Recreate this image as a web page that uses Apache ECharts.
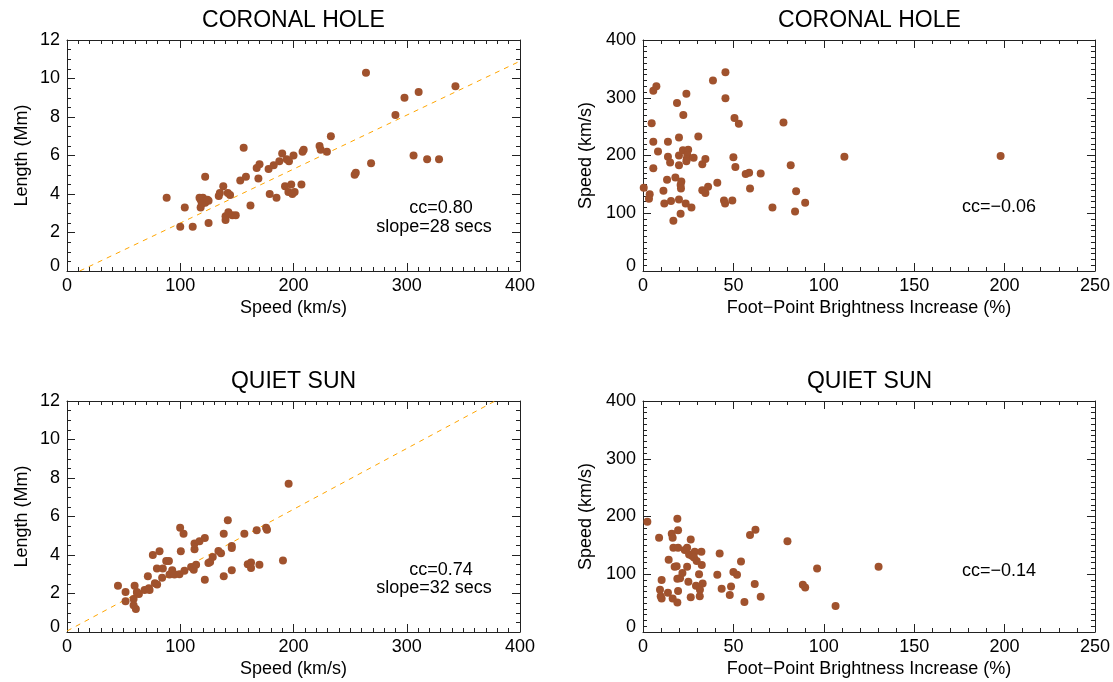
<!DOCTYPE html>
<html>
<head>
<meta charset="utf-8">
<script src="https://cdn.jsdelivr.net/npm/echarts@6/dist/echarts.min.js"></script>
<style>html,body{margin:0;padding:0;background:#fff;}#c{width:1113px;height:682px;}</style>
</head>
<body>
<div id="c"></div>
<script>
// ---- DATA ----
// Coronal hole: [speed km/s, length Mm]
const chSpeedLength = [[88,3.8],[104,3.3],[100,2.3],[111,2.3],[122,4.9],
 [117,3.8],[118,3.7],[120,3.8],[122,3.55],[118,3.3],[125,3.65],[121,3.6],[124,3.7],[119,3.5],
 [125,2.5],[134,3.9],[135,4.05],[138,4.4],[142,4.05],[144,3.95],
 [140,2.65],[140,2.85],[142.5,3.05],[146,2.9],[149,2.9],
 [153,4.7],[156,6.4],[158,4.9],[162,3.4],[167.5,5.35],[170,5.55],[169,4.8],[178,5.3],[182.5,5.5],[187.5,5.7],
 [179,4.0],[185,3.8],[190,6.1],[194,5.8],[196,5.7],[192.5,4.4],[198,4.5],[195.5,4.1],[199,4.0],[201,4.1],
 [200,6.0],[207,4.5],[208,6.2],[209,6.3],[223,6.5],[224,6.3],[229.5,6.2],[233,7.0],[254,5.0],[255,5.1],
 [264,10.3],[268.5,5.6],[290,8.1],[298,9.0],[306,6.0],[310.5,9.3],[318,5.8],[328.5,5.8],[343,9.6]];
// Coronal hole: [foot-point brightness increase %, speed km/s]
const chBrightSpeed = [[0.4,144],[3.7,133],[3.3,125],[4.8,256],[5.7,312],[7.4,320],[5.7,224],[5.7,178],[8.3,207],
 [11.3,139],[11.8,117],[13.3,158],[13.8,224],[13.8,198],[15,188],[15.5,121],[16.8,87],[17.9,162],[18.8,291],
 [19.9,231],[19.9,200],[19.9,183],[19.9,124],[20.8,99],[21.2,155],[20.8,149],[21,143],[22.3,270],[22.1,209],
 [25,210],[24.5,201],[24.2,194],[24,190],[23.6,117],[24,307],[26.8,110],[28,196],[30.6,233],[32.8,185],
 [34.5,194],[32.8,140],[34.5,135],[36,146],[38.7,330],[41.1,153],[44.8,122],[45.4,117],[45.6,344],[45.6,299],
 [49.4,122],[50,197],[50.6,265],[51.1,180],[53,255],[56.8,168],[58.7,170],[59.2,143],[65.1,169],[71.6,110],
 [77.7,257],[81.7,183],[84.1,103],[84.7,138],[89.7,118],[111.4,198],[197.8,199]];
// Quiet sun: [speed km/s, length Mm]
const qsSpeedLength = [[45,2.4],[51.7,2.08],[51.7,1.6],[59.7,2.4],[58.8,1.72],[58.8,1.39],[60.8,1.19],[62,2.0],
 [63.5,1.98],[61.7,2.08],[68.5,2.18],[72.3,2.27],[72.9,2.18],[71.4,2.9],[75.8,4.0],[77.6,2.53],[79.6,2.47],
 [79.4,3.3],[81.7,4.19],[84,2.82],[84.6,3.3],[87.6,3.69],[90,3.69],[90.5,2.99],[92.9,3.21],[94.9,2.99],
 [99.3,3.0],[99.9,5.41],[100.5,4.19],[102.9,5.1],[103.7,3.18],[109.6,3.38],[111.9,3.23],[114,3.49],
 [112.6,4.3],[112.6,4.6],[117,4.72],[121.7,4.88],[121.7,2.71],[124.9,3.59],[126.4,3.63],[128.7,3.9],
 [133.7,4.21],[136,4.09],[138.4,5.1],[138.4,2.89],[142,5.81],[145.5,4.47],[145.5,4.36],[145.5,3.21],
 [156.6,5.1],[159.6,3.52],[162.5,3.61],[162.5,3.33],[167.5,5.29],[169.9,3.49],[175.8,5.41],[176.6,5.31],
 [190.7,3.71],[195.7,7.7]];
// Quiet sun: [foot-point brightness increase %, speed km/s]
const qsBrightSpeed = [[2.4,191],[8.9,163],[10.3,90],[9.4,73],[9.8,62],[10.3,58],[13.8,68],[14.2,125],[15.9,170],
 [16.4,163],[16.4,58],[16.8,146],[17.5,113],[18.6,114],[19,196],[19.4,176],[19.4,146],[19,92],[20.5,93],
 [19.4,71],[19,51],[21.8,102],[23.1,142],[24.4,146],[24.4,113],[25.1,87],[26.4,160],[25.5,134],[27,132],
 [28.6,139],[28.2,129],[29.7,123],[26.4,60],[29.3,80],[31,100],[31.5,73],[31.4,62],[32.3,139],[32.5,116],
 [33,84],[41.1,99],[42.4,136],[43.5,75],[48,64],[48.7,79],[50,104],[52,99],[54.2,122],[56.1,52],[59.2,168],
 [61.8,83],[62.2,177],[65.1,61],[79.9,157],[88.4,82],[89.7,77],[96.3,110],[106.5,45],[130.3,113]];
// Fit lines (endpoints)
const chFit = [[11.2,0],[400,10.9]];
const qsFit = [[0,0.05],[378,12]];
// Titles and annotations
const panelTitles = ['CORONAL HOLE','CORONAL HOLE','QUIET SUN','QUIET SUN'];
const annotations = [['cc=0.80','slope=28 secs'],['cc=\u22120.06'],['cc=0.74','slope=32 secs'],['cc=\u22120.14']];
const speedTicks = [0,100,200,300,400];
const lengthTicks = [0,2,4,6,8,10,12];

// ---- LAYOUT ----
const FONT = 'Liberation Sans';
const grids = [
  {left:67, top:40, width:453, height:231},
  {left:643, top:40, width:453, height:231},
  {left:67, top:401, width:453, height:231},
  {left:643, top:401, width:453, height:231}
];
const axColor = '#222';
function zeroFmt(v){ return v === 0 ? '{z|0}' : String(v); }
function mkX(gi, min, max, interval, minorSplit, name, main){
  return {
    type:'value', gridIndex:gi, min:min, max:max, interval:interval,
    position: main ? 'bottom' : 'top',
    name: main ? name : '', nameLocation:'middle', nameGap:28,
    nameTextStyle:{fontFamily:FONT, fontSize:18, color:'#000'},
    axisLine:{show:true, onZero:false, lineStyle:{color:axColor, width:1}},
    axisTick:{show:true, inside:true, length:8, lineStyle:{color:axColor}},
    minorTick:{show:true, splitNumber:minorSplit, length:4, lineStyle:{color:axColor}},
    axisLabel:{show:main, margin:6, fontFamily:FONT, fontSize:18, color:'#000'},
    splitLine:{show:false}
  };
}
function mkY(gi, min, max, interval, minorSplit, name, gap, main){
  return {
    type:'value', gridIndex:gi, min:min, max:max, interval:interval,
    position: main ? 'left' : 'right',
    name: main ? name : '', nameLocation:'middle', nameGap:gap, nameRotate:90,
    nameTextStyle:{fontFamily:FONT, fontSize:18, color:'#000'},
    axisLine:{show:true, onZero:false, lineStyle:{color:axColor, width:1}},
    axisTick:{show:true, inside:true, length:8, lineStyle:{color:axColor}},
    minorTick:{show:true, splitNumber:minorSplit, length:4, lineStyle:{color:axColor}},
    axisLabel:{show:main, margin:7, fontFamily:FONT, fontSize:18, color:'#000',
      formatter:zeroFmt, rich:{z:{fontFamily:FONT, fontSize:18, color:'#000', padding:[0,0,10,0]}}},
    splitLine:{show:false}
  };
}
const xAxes = [], yAxes = [];
[0,2].forEach(gi=>{
  xAxes.push(mkX(gi, speedTicks[0], speedTicks[speedTicks.length-1], 100, 10, 'Speed (km/s)', true));
  xAxes.push(mkX(gi, speedTicks[0], speedTicks[speedTicks.length-1], 100, 10, '', false));
  yAxes.push(mkY(gi, lengthTicks[0], lengthTicks[lengthTicks.length-1], 2, 4, 'Length (Mm)', 36, true));
  yAxes.push(mkY(gi, lengthTicks[0], lengthTicks[lengthTicks.length-1], 2, 4, '', 36, false));
});
[1,3].forEach(gi=>{
  xAxes.push(mkX(gi, 0, 250, 50, 5, 'Foot\u2212Point Brightness Increase (%)', true));
  xAxes.push(mkX(gi, 0, 250, 50, 5, '', false));
  yAxes.push(mkY(gi, 0, 400, 100, 10, 'Speed (km/s)', 48, true));
  yAxes.push(mkY(gi, 0, 400, 100, 10, '', 48, false));
});
// axis index mapping: grid0 -> 0, grid2 -> 2, grid1 -> 4, grid3 -> 6
const axIdx = {0:0, 2:2, 1:4, 3:6};
const dotColor = '#a0522d';
function scatter(gi, data){
  return {type:'scatter', xAxisIndex:axIdx[gi], yAxisIndex:axIdx[gi], data:data,
    symbolSize:8, itemStyle:{color:dotColor, opacity:1}, silent:true, z:3};
}
function fit(gi, data){
  return {type:'line', xAxisIndex:axIdx[gi], yAxisIndex:axIdx[gi], data:data, symbol:'none',
    lineStyle:{color:'#ffa500', width:1, type:[5,5]}, silent:true, z:2, clip:true};
}
const series = [fit(0, chFit), scatter(0, chSpeedLength), scatter(1, chBrightSpeed),
  fit(2, qsFit), scatter(2, qsSpeedLength), scatter(3, qsBrightSpeed)];

const titles = panelTitles.map((t,i)=>({
  text:t, left: grids[i].left + grids[i].width/2, top: grids[i].top - 31, textAlign:'center', padding:0,
  textStyle:{fontFamily:FONT, fontSize:23, fontWeight:'normal', color:'#000'}
}));

const annPos = [[[441,208],[434,227]],[[999,207]],[[441,570],[434,588]],[[999,571]]];
const graphics = [];
annotations.forEach((lines,i)=>{
  lines.forEach((txt,j)=>{
    graphics.push({type:'text', x:annPos[i][j][0], y:annPos[i][j][1],
      style:{text:txt, fontFamily:FONT, fontSize:18, fill:'#000', textAlign:'center', textVerticalAlign:'middle'}});
  });
});

const chart = echarts.init(document.getElementById('c'), null, {renderer:'canvas'});
chart.setOption({
  animation:false,
  backgroundColor:'#fff',
  title: titles,
  grid: grids.map(g=>Object.assign({show:false, containLabel:false}, g)),
  xAxis: xAxes,
  yAxis: yAxes,
  series: series,
  graphic: graphics
});
</script>
</body>
</html>
